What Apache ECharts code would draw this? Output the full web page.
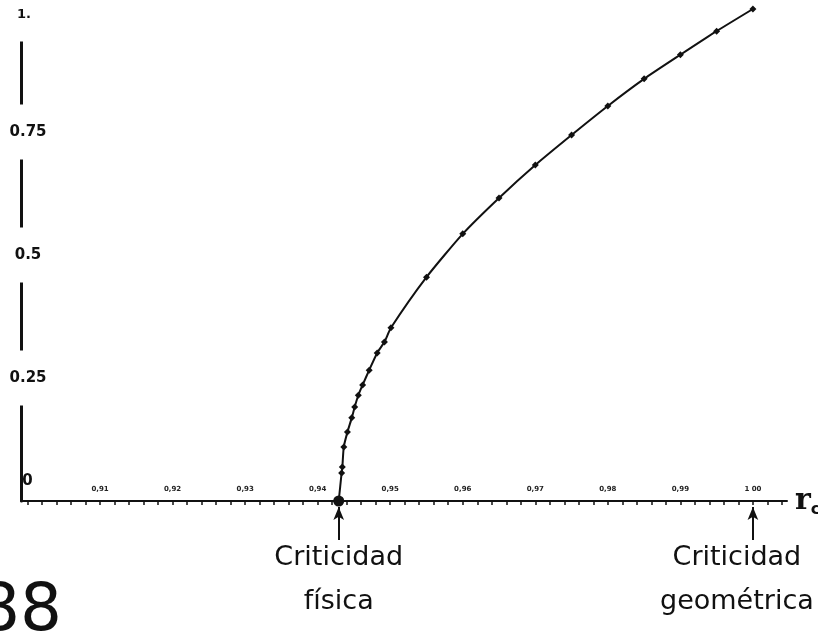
<!DOCTYPE html>
<html>
<head>
<meta charset="utf-8">
<script src="https://cdn.jsdelivr.net/npm/echarts@6/dist/echarts.min.js"></script>
<style>html,body{margin:0;padding:0;background:#fff}#c{width:818px;height:634px}</style>
</head>
<body>
<div id="c"></div>
<script>
// ---- data ----
const xVals = [0.9429, 0.9433, 0.9434, 0.9436, 0.9441, 0.9447, 0.9451, 0.9456, 0.9462, 0.9471, 0.9482, 0.9492, 0.9501, 0.955, 0.960, 0.965, 0.970, 0.975, 0.980, 0.985, 0.990, 0.995, 1.000];
const yVals = [0, 0.057, 0.069, 0.110, 0.140, 0.169, 0.191, 0.215, 0.236, 0.266, 0.301, 0.323, 0.352, 0.455, 0.543, 0.616, 0.683, 0.744, 0.803, 0.858, 0.907, 0.955, 1.0];
const xTickValues = [0.90, 0.91, 0.92, 0.93, 0.94, 0.95, 0.96, 0.97, 0.98, 0.99, 1.00];
const xTickLabels = ['0', '0,91', '0,92', '0,93', '0,94', '0,95', '0,96', '0,97', '0,98', '0,99', '1 00'];
const yTickValues = [0, 0.25, 0.5, 0.75, 1.0];
const yTickLabels = ['', '0.25', '0.5', '0.75', '1.'];
const criticalPoints = [0.9429, 1.00];
const criticalLabels = ['Criticidad\nfísica', 'Criticidad\ngeométrica'];
const pageNumber = '88';

// minor ticks every 0.002 between majors
const xMinorTicks = [];
for (let i = 0; i < xTickValues.length; i++) {
  for (let k = 0; k < 5; k++) {
    const v = +(xTickValues[i] + k * 0.002).toFixed(3);
    if (v <= 1.004) xMinorTicks.push(v);
  }
}

const seriesData = xVals.map((x, i) => {
  if (i === 0) return { value: [x, yVals[i]], symbol: 'circle', symbolSize: 11 };
  return [x, yVals[i]];
});

const X_MIN = 0.8991, X_MAX = 1.0047;

const chart = echarts.init(document.getElementById('c'), null, { renderer: 'canvas' });
chart.setOption({
  animation: false,
  backgroundColor: '#fff',
  grid: [
    { left: 21, right: 31, top: 9, bottom: 133, containLabel: false, outerBoundsMode: 'none' },
    { left: 21, right: 31, top: 503, bottom: 0, containLabel: false, outerBoundsMode: 'none' }
  ],
  xAxis: [{
    type: 'value',
    gridIndex: 0,
    min: X_MIN,
    max: X_MAX,
    name: '{r|r}{c|c}',
    nameLocation: 'end',
    nameGap: 8,
    nameTextStyle: {
      rich: {
        r: { fontFamily: 'DejaVu Serif', fontWeight: 'bold', fontSize: 30, color: '#111' },
        c: { fontFamily: 'DejaVu Sans', fontWeight: 'bold', fontSize: 16, color: '#111', padding: [18, 0, 0, 0] }
      }
    },
    axisLine: { show: true, onZero: false, lineStyle: { color: '#111', width: 2 } },
    axisTick: { show: true, customValues: xMinorTicks, length: 4, inside: false, lineStyle: { color: '#111', width: 1.5 } },
    axisLabel: {
      show: true,
      customValues: xTickValues,
      inside: true,
      margin: 8,
      formatter: (v) => {
        const i = xTickValues.findIndex(t => Math.abs(t - v) < 1e-6);
        if (i === 0) return '{z|' + xTickLabels[i] + '}';
        return i >= 0 ? xTickLabels[i] : '';
      },
      color: '#222',
      fontFamily: 'DejaVu Sans',
      fontWeight: 'bold',
      fontSize: 7,
      rich: { z: { fontFamily: 'DejaVu Sans', fontSize: 15, fontWeight: 'bold', color: '#111', padding: [0, 0, 4, 0] } }
    },
    splitLine: { show: false }
  }, {
    type: 'value',
    gridIndex: 1,
    min: X_MIN,
    max: X_MAX,
    show: false
  }],
  yAxis: [{
    type: 'value',
    gridIndex: 0,
    min: 0,
    max: 1,
    interval: 0.25,
    axisLine: { show: true, lineStyle: { color: '#111', width: 3 } },
    axisTick: { show: false },
    axisLabel: {
      show: true,
      margin: -7,
      align: 'center',
      formatter: (v) => {
        const i = yTickValues.findIndex(t => Math.abs(t - v) < 1e-6);
        if (i === yTickValues.length - 1) return '{one|' + yTickLabels[i] + '}';
        return i >= 0 ? yTickLabels[i] : '';
      },
      color: '#111',
      fontFamily: 'DejaVu Sans',
      fontWeight: 'bold',
      fontSize: 15,
      backgroundColor: '#fff',
      padding: [20, 3, 20, 3],
      rich: { one: { fontFamily: 'DejaVu Sans', fontWeight: 'bold', fontSize: 13, color: '#111', padding: [12, 8, 0, 0] } }
    },
    splitLine: { show: false }
  }, {
    type: 'value',
    gridIndex: 1,
    min: 0,
    max: 131,
    inverse: true,
    show: false
  }],
  series: [{
    type: 'line',
    xAxisIndex: 0,
    yAxisIndex: 0,
    data: seriesData,
    clip: false,
    smooth: 0.2,
    symbol: 'diamond',
    symbolSize: 7,
    showAllSymbol: true,
    itemStyle: { color: '#111' },
    lineStyle: { color: '#111', width: 2 }
  }, {
    type: 'line',
    xAxisIndex: 1,
    yAxisIndex: 1,
    data: [],
    markLine: {
      silent: true,
      symbol: ['none', 'arrow'],
      symbolSize: [8, 13],
      lineStyle: { color: '#111', width: 2, type: 'solid' },
      label: {
        show: true,
        position: 'start',
        distance: 0,
        color: '#111',
        fontFamily: 'DejaVu Sans',
        fontSize: 27,
        lineHeight: 44,
        align: 'center',
        formatter: (p) => criticalLabels[p.dataIndex]
      },
      data: criticalPoints.map((x, i) => [
        { coord: [x, 37], label: { offset: [i === 0 ? 0 : -16, -4] } },
        { coord: [x, 4] }
      ])
    }
  }],
  graphic: [{
    type: 'text',
    left: -22,
    top: 580,
    style: { text: pageNumber, font: '66px "DejaVu Sans"', fill: '#111' }
  }]
});
</script>
</body>
</html>
